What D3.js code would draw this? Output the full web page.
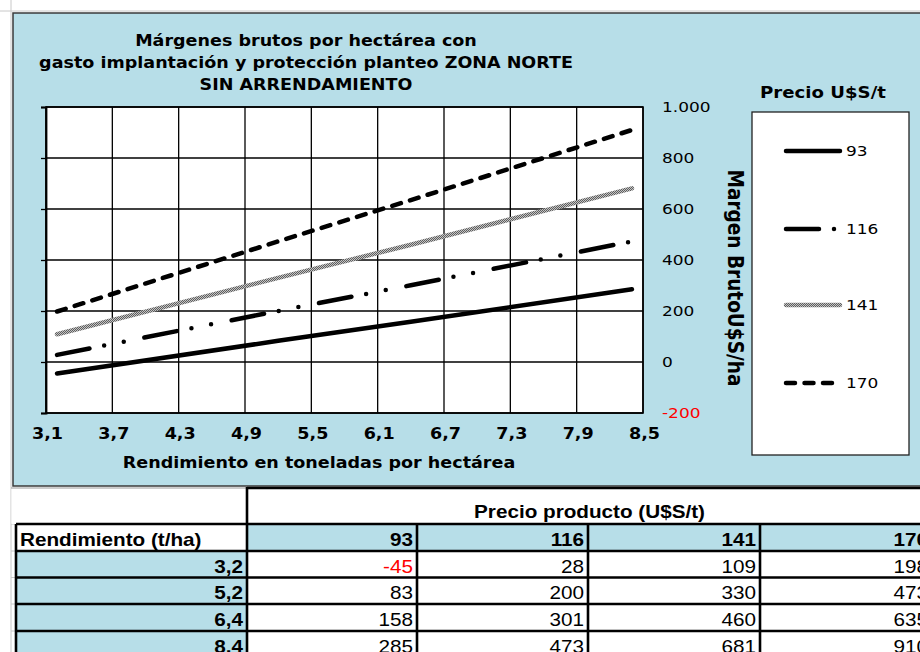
<!DOCTYPE html>
<html><head><meta charset="utf-8">
<script src="https://cdn.jsdelivr.net/npm/d3@7"></script>
<style>body{margin:0;background:#fff}svg{display:block}</style>
</head><body>
<svg id="c" width="920" height="652"></svg>
<script>
// ---- data ----
const titleLines = ["Márgenes brutos por hectárea con", "gasto implantación y protección planteo ZONA NORTE", "SIN ARRENDAMIENTO"];
const xTitle = "Rendimiento en toneladas por hectárea";
const yTitle = "Margen BrutoU$S/ha";
const legendTitle = "Precio U$S/t";
const yields = [3.2, 5.2, 6.4, 8.4];
const prices = ["93", "116", "141", "170"];
const margin93 = [-45, 83, 158, 285];
const margin116 = [28, 200, 301, 473];
const margin141 = [109, 330, 460, 681];
const margin170 = [198, 473, 635, 910];
const xTicks = [3.1, 3.7, 4.3, 4.9, 5.5, 6.1, 6.7, 7.3, 7.9, 8.5];
const yTicks = [-200, 0, 200, 400, 600, 800, 1000];
const tableHeader = "Precio producto (U$S/t)";
const tableRowHeader = "Rendimiento (t/ha)";

const series = [
  {name: prices[0], values: margin93},
  {name: prices[1], values: margin116},
  {name: prices[2], values: margin141},
  {name: prices[3], values: margin170}
];

const loc = d3.formatLocale({decimal: ",", thousands: ".", grouping: [3], currency: ["", ""], minus: "-"});
const fmtY = loc.format(",");
const fmtX = loc.format(".1f");

const svg = d3.select("#c");
const BLUE = "#B7DEE8";
const FONT = "'DejaVu Sans', Verdana, sans-serif";
const TFONT = "'Liberation Sans', Arial, sans-serif";
const CX = 1.17;  // horizontal glyph stretch of chart texts
const SX = 1.15;  // horizontal glyph stretch of table texts

// pattern for gray textured line
const defs = svg.append("defs");
const pat = defs.append("pattern").attr("id", "chk").attr("patternUnits", "userSpaceOnUse")
  .attr("width", 2).attr("height", 2);
pat.append("rect").attr("width", 2).attr("height", 2).attr("fill", "#c4c4c4");
pat.append("rect").attr("width", 1).attr("height", 1).attr("fill", "#5e5e5e");
pat.append("rect").attr("x", 1).attr("y", 1).attr("width", 1).attr("height", 1).attr("fill", "#5e5e5e");

// spreadsheet faint lines
svg.append("line").attr("x1", 11).attr("x2", 11).attr("y1", 0).attr("y2", 652).attr("stroke", "#c8c8c8").attr("stroke-width", 1);
svg.append("line").attr("x1", 0).attr("x2", 920).attr("y1", 11).attr("y2", 11).attr("stroke", "#c8c8c8").attr("stroke-width", 1);

// chart area
svg.append("rect").attr("x", 13).attr("y", 13).attr("width", 940).attr("height", 473)
  .attr("fill", BLUE).attr("stroke", "#3a3a3a").attr("stroke-width", 1.5);

// title
svg.append("g").selectAll("text").data(titleLines).join("text")
  .attr("transform", (d, i) => `translate(306,${46 + i * 22}) scale(${CX},1)`)
  .attr("text-anchor", "middle")
  .attr("font-family", FONT).attr("font-weight", "bold").attr("font-size", 15)
  .text(d => d);

// scales
const x = d3.scaleLinear().domain([3.1, 8.5]).range([46, 643]);
const y = d3.scaleLinear().domain([-200, 1000]).range([413, 107]);

// plot area
svg.append("rect").attr("x", x(3.1)).attr("y", y(1000)).attr("width", x(8.5) - x(3.1)).attr("height", y(-200) - y(1000))
  .attr("fill", "#fff");

// gridlines
svg.append("g").selectAll("line").data(xTicks).join("line")
  .attr("x1", d => x(d)).attr("x2", d => x(d)).attr("y1", y(1000)).attr("y2", y(-200))
  .attr("stroke", "#000").attr("stroke-width", 1.3);
svg.append("g").selectAll("line").data(yTicks).join("line")
  .attr("x1", x(3.1)).attr("x2", x(8.5)).attr("y1", d => y(d)).attr("y2", d => y(d))
  .attr("stroke", "#000").attr("stroke-width", 1.3);

// left axis ticks (no labels)
const gl = svg.append("g").attr("transform", `translate(${x(3.1)},0)`)
  .call(d3.axisLeft(y).tickValues(yTicks).tickSize(5).tickFormat(""));
gl.select(".domain").attr("stroke", "#000").attr("stroke-width", 1.8);
gl.selectAll(".tick line").attr("stroke", "#000").attr("stroke-width", 1.3);

// plot border
svg.append("rect").attr("x", x(3.1)).attr("y", y(1000)).attr("width", x(8.5) - x(3.1)).attr("height", y(-200) - y(1000))
  .attr("fill", "none").attr("stroke", "#000").attr("stroke-width", 1.6);

// y labels on right
const gy = svg.append("g").attr("transform", `translate(${x(8.5) + 19},0)`)
  .call(d3.axisRight(y).tickValues(yTicks).tickSize(0).tickPadding(0).tickFormat(fmtY));
gy.select(".domain").remove();
gy.selectAll("text").attr("font-family", FONT).attr("font-size", 14.5).attr("transform", `scale(${CX},1)`)
  .attr("fill", d => d < 0 ? "#ff0000" : "#000").attr("text-anchor", "start");

// x labels
const gx = svg.append("g").attr("transform", `translate(0,${y(-200) + 15})`)
  .call(d3.axisBottom(x).tickValues(xTicks).tickSize(0).tickPadding(0).tickFormat(fmtX));
gx.select(".domain").remove();
gx.selectAll("text").attr("font-family", FONT).attr("font-size", 15).attr("font-weight", "bold")
  .attr("transform", `translate(1,0) scale(${CX},1)`).attr("fill", "#000");

// axis titles
svg.append("text").attr("transform", `translate(319,468) scale(${CX},1)`).attr("text-anchor", "middle")
  .attr("font-family", FONT).attr("font-size", 15).attr("font-weight", "bold").text(xTitle);
svg.append("text").attr("transform", `translate(728,278) scale(${CX},1) rotate(90)`).attr("text-anchor", "middle")
  .attr("font-family", FONT).attr("font-size", 18.5).attr("font-weight", "bold").text(yTitle);

// line styles
const styles = [
  {stroke: "#000", width: 4.5, dash: null, cap: "round"},
  {stroke: "#000", width: 4.5, dash: "33,15,0,20,0,21", cap: "round"},
  {stroke: "url(#chk)", width: 4.5, dash: null, cap: "round"},
  {stroke: "#000", width: 4.5, dash: "9,9.5", cap: "round"}
];

const line = d3.line().x((d, i) => x(yields[i])).y(d => y(d));
svg.append("g").selectAll("path").data(series).join("path")
  .attr("d", d => line(d.values))
  .attr("fill", "none")
  .attr("stroke", (d, i) => styles[i].stroke)
  .attr("stroke-width", (d, i) => styles[i].width)
  .attr("stroke-dasharray", (d, i) => styles[i].dash)
  .attr("stroke-linecap", (d, i) => styles[i].cap);

// legend
svg.append("text").attr("transform", `translate(823,98) scale(${CX},1)`).attr("text-anchor", "middle")
  .attr("font-family", FONT).attr("font-size", 15.5).attr("font-weight", "bold").text(legendTitle);
svg.append("rect").attr("x", 752).attr("y", 112).attr("width", 157).attr("height", 343)
  .attr("fill", "#fff").attr("stroke", "#222").attr("stroke-width", 1.3);
const legY = [151, 229, 305, 383];
const lg = svg.append("g").selectAll("g").data(series).join("g")
  .attr("transform", (d, i) => `translate(0,${legY[i]})`);
lg.append("path").attr("d", "M786,0L840,0").attr("fill", "none")
  .attr("stroke", (d, i) => styles[i].stroke)
  .attr("stroke-width", (d, i) => styles[i].width)
  .attr("stroke-dasharray", (d, i) => styles[i].dash)
  .attr("stroke-linecap", (d, i) => styles[i].cap);
lg.append("text").attr("transform", `translate(846,0) scale(${CX},1)`).attr("dy", "0.35em")
  .attr("font-family", FONT).attr("font-size", 14.5).text(d => d.name);

// ---- table ----
const colX = [16, 247, 417, 588, 760, 932];
const rowY = [488, 524, 551, 577.5, 604, 631, 658];
const tg = svg.append("g");
tg.selectAll("line.sg").data(rowY.slice(1)).join("line").attr("class", "sg")
  .attr("x1", 11).attr("x2", 16).attr("y1", d => d).attr("y2", d => d).attr("stroke", "#c8c8c8");
// header row
tg.append("rect").attr("x", 11.5).attr("y", 488).attr("width", 920).attr("height", 36).attr("fill", "#fff");
tg.append("line").attr("x1", 11).attr("x2", 247).attr("y1", 488).attr("y2", 488).attr("stroke", "#9a9a9a").attr("stroke-width", 1);
tg.append("text").attr("transform", `translate(${(colX[1] + colX[5]) / 2},518) scale(${SX},1)`).attr("text-anchor", "middle")
  .attr("font-family", TFONT).attr("font-size", 18).attr("font-weight", "bold").text(tableHeader);

const cells = [];
for (let r = 0; r < yields.length + 1; r++) {
  for (let c = 0; c < prices.length + 1; c++) {
    let txt, bold = false, fill = "#fff", color = "#000", anchor = "end";
    if (r === 0 && c === 0) { txt = tableRowHeader; bold = true; anchor = "start"; }
    else if (r === 0) { txt = prices[c - 1]; bold = true; fill = BLUE; }
    else if (c === 0) { txt = fmtX(yields[r - 1]); bold = true; fill = BLUE; }
    else { const v = series[c - 1].values[r - 1]; txt = String(v); color = v < 0 ? "#ff0000" : "#000"; }
    cells.push({r, c, txt, bold, fill, color, anchor});
  }
}
tg.selectAll("rect.cell").data(cells).join("rect").attr("class", "cell")
  .attr("x", d => colX[d.c]).attr("y", d => rowY[d.r + 1])
  .attr("width", d => colX[d.c + 1] - colX[d.c]).attr("height", d => rowY[d.r + 2] - rowY[d.r + 1])
  .attr("fill", d => d.fill);
tg.selectAll("text.cell").data(cells).join("text").attr("class", "cell")
  .attr("transform", d => `translate(${d.anchor === "start" ? colX[d.c] + 4 : colX[d.c + 1] - 4},${rowY[d.r + 2] - 5}) scale(${SX},1)`)
  .attr("text-anchor", d => d.anchor)
  .attr("font-family", TFONT).attr("font-size", 18)
  .attr("font-weight", d => d.bold ? "bold" : "normal")
  .attr("fill", d => d.color).text(d => d.txt);

// borders
const bw = 2.6;
tg.append("line").attr("x1", 247).attr("x2", 940).attr("y1", 488).attr("y2", 488).attr("stroke", "#000").attr("stroke-width", bw);
tg.append("line").attr("x1", 247).attr("x2", 247).attr("y1", 487).attr("y2", 524).attr("stroke", "#000").attr("stroke-width", bw);
tg.selectAll("line.h").data(rowY.slice(1)).join("line").attr("class", "h")
  .attr("x1", colX[0]).attr("x2", 940).attr("y1", d => d).attr("y2", d => d).attr("stroke", "#000").attr("stroke-width", bw);
tg.selectAll("line.v").data(colX).join("line").attr("class", "v")
  .attr("x1", d => d).attr("x2", d => d).attr("y1", rowY[1]).attr("y2", 660).attr("stroke", "#000").attr("stroke-width", bw);
</script>
</body></html>
